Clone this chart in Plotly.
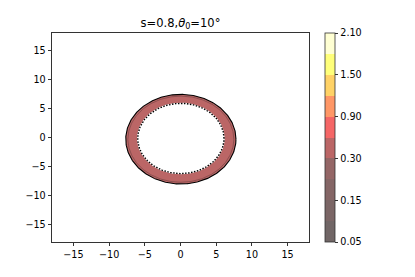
import numpy as np
import plotly.graph_objects as go

# ---- data ----
levels = [0.05, 0.10, 0.15, 0.20, 0.30, 0.60, 0.90, 1.20, 1.50, 1.80, 2.10]
tick_labels = ["0.05", "0.15", "0.30", "0.90", "1.50", "2.10"]
band_colors = ["rgb(113,102,102)", "rgb(123,102,102)", "rgb(133,102,102)",
               "rgb(148,102,102)", "rgb(187,102,102)", "rgb(245,102,102)",
               "rgb(255,151,102)", "rgb(255,210,102)", "rgb(255,255,122)",
               "rgb(255,255,211)"]
ring_band = 4                      # ring lies in the 0.30-0.60 band
outer_center = (0.05, -0.29)
outer_radius = 7.72
mid_radius = 7.42
inner_center = (0.05, -0.17)
inner_radius = 6.05
axis_ticks = [-15, -10, -5, 0, 5, 10, 15]
axis_range = [-18, 18]

t = np.linspace(0, 2 * np.pi, 361)


def circle(c, r, reverse=False):
    tt = t[::-1] if reverse else t
    return c[0] + r * np.cos(tt), c[1] + r * np.sin(tt)


ox, oy = circle(outer_center, outer_radius)
ix, iy = circle(inner_center, inner_radius, reverse=True)
mx, my = circle(outer_center, mid_radius)
ix2, iy2 = circle(inner_center, inner_radius)

fig = go.Figure()
# ring fill (outer CCW + inner CW -> hole)
fig.add_trace(go.Scatter(x=np.concatenate([ox, ix]), y=np.concatenate([oy, iy]),
                         mode="lines", fill="toself",
                         fillcolor=band_colors[ring_band],
                         line=dict(width=0), hoverinfo="skip", showlegend=False))
fig.add_trace(go.Scatter(x=mx, y=my, mode="lines",
                         line=dict(color="rgb(120,70,70)", width=0.7),
                         hoverinfo="skip", showlegend=False))
fig.add_trace(go.Scatter(x=ox, y=oy, mode="lines",
                         line=dict(color="black", width=1.1),
                         hoverinfo="skip", showlegend=False))
fig.add_trace(go.Scatter(x=ix2, y=iy2, mode="lines",
                         line=dict(color="white", width=1.4),
                         hoverinfo="skip", showlegend=False))
fig.add_trace(go.Scatter(x=ix2, y=iy2, mode="lines",
                         line=dict(color="black", width=1.4, dash="1.5px,1.5px"),
                         hoverinfo="skip", showlegend=False))

# discrete colour bar
n = len(band_colors)
cscale = []
for i, c in enumerate(band_colors):
    cscale.append([i / n, c])
    cscale.append([(i + 1) / n, c])
fig.add_trace(go.Scatter(
    x=[0, 0], y=[0, 0], mode="markers", hoverinfo="skip", showlegend=False,
    marker=dict(size=0, opacity=0, color=[0, n], cmin=0, cmax=n,
                colorscale=cscale, showscale=True,
                colorbar=dict(x=1.061, xanchor="left", y=0.5, yanchor="middle",
                              len=1, lenmode="fraction", xpad=0, ypad=0,
                              thickness=10, thicknessmode="pixels",
                              outlinewidth=0.8, outlinecolor="#333",
                              tickvals=list(range(0, n + 1, 2)),
                              ticktext=tick_labels,
                              ticks="outside", ticklen=3.5, tickwidth=0.8,
                              tickcolor="#333",
                              tickfont=dict(family="DejaVu Sans", size=9.6,
                                            color="black")))))

axis_common = dict(range=axis_range, tickvals=axis_ticks, showgrid=False,
                   zeroline=False, showline=True, linecolor="#333",
                   linewidth=0.8, mirror=True, ticks="outside", ticklen=3.5,
                   tickwidth=0.8, tickcolor="#333",
                   tickfont=dict(family="DejaVu Sans", size=9.6, color="black"))

# the page body adds an 8px offset, so the figure is 8px smaller
W, H = 407, 269
fig.update_layout(
    width=W, height=H,
    margin=dict(l=44, r=106, t=25, b=35, autoexpand=False),
    plot_bgcolor="white", paper_bgcolor="white",
    xaxis=axis_common, yaxis=axis_common,
    title=dict(text="s=0.8,<i>θ</i><sub>0</sub>=10°", x=0.5, xref="paper",
               xanchor="center", y=1 - 14.5 / H, yref="container",
               yanchor="middle",
               font=dict(family="DejaVu Sans", size=11.5, color="black")),
)

fig.write_html("out.html")
